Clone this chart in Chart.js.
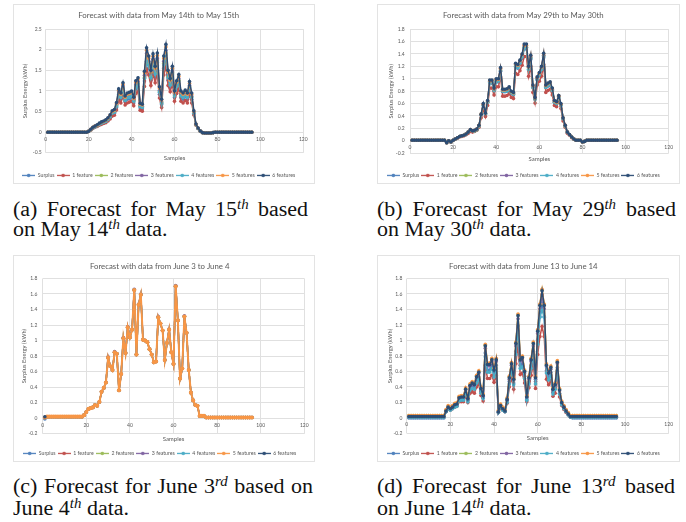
<!DOCTYPE html>
<html><head><meta charset="utf-8">
<script src="https://cdn.jsdelivr.net/npm/chart.js@4/dist/chart.umd.min.js"></script>
<style>
html,body{margin:0;padding:0;background:#fff;}
body{width:686px;height:522px;position:relative;overflow:hidden;font-family:"Liberation Serif","Times New Roman",serif;}
.box{position:absolute;border:1px solid #e3e3e3;box-sizing:border-box;}
canvas{position:absolute;}
.cap{position:absolute;font-size:20px;line-height:21px;color:#111;white-space:nowrap;transform:scaleX(1.1);transform-origin:0 0;}
.j{text-align:justify;text-align-last:justify;white-space:normal;}
.s{font-size:0.68em;font-style:italic;vertical-align:0.5em;line-height:0;}
</style></head><body>
<div class="box" style="left:13px;top:4px;width:302px;height:180px"></div>
<div class="box" style="left:377px;top:4px;width:303px;height:180px"></div>
<div class="box" style="left:13px;top:255px;width:302px;height:207px"></div>
<div class="box" style="left:377px;top:255px;width:303px;height:207px"></div>
<canvas id="ca" width="300" height="183" style="left:14px;top:5px"></canvas>
<canvas id="cb" width="301" height="183" style="left:378px;top:5px"></canvas>
<canvas id="cc" width="299" height="210" style="left:15px;top:256px"></canvas>
<canvas id="cd" width="301" height="210" style="left:378px;top:256px"></canvas>

<div class="cap j" style="left:13px;top:198.7px;width:268.2px">(a) Forecast for May 15<span class="s">th</span> based</div>
<div class="cap" style="left:13px;top:219.4px">on May 14<span class="s">th</span> data.</div>
<div class="cap j" style="left:377px;top:198.7px;width:271.8px">(b) Forecast for May 29<span class="s">th</span> based</div>
<div class="cap" style="left:377px;top:219.4px">on May 30<span class="s">th</span> data.</div>
<div class="cap j" style="left:13px;top:476px;width:272.7px">(c) Forecast for June 3<span class="s">rd</span> based on</div>
<div class="cap" style="left:13px;top:497.7px">June 4<span class="s">th</span> data.</div>
<div class="cap j" style="left:377px;top:476px;width:270.9px">(d) Forecast for June 13<span class="s">rd</span> based</div>
<div class="cap" style="left:377px;top:497.7px">on June 14<span class="s">th</span> data.</div>

<script>
const samples = [1,2,3,4,5,6,7,8,9,10,11,12,13,14,15,16,17,18,19,20,21,22,23,24,25,26,27,28,29,30,31,32,33,34,35,36,37,38,39,40,41,42,43,44,45,46,47,48,49,50,51,52,53,54,55,56,57,58,59,60,61,62,63,64,65,66,67,68,69,70,71,72,73,74,75,76,77,78,79,80,81,82,83,84,85,86,87,88,89,90,91,92,93,94,95,96];
const seriesNames = ['Surplus','1 feature','2 features','3 features','4 features','5 features','6 features'];
const xTicks = [0,20,40,60,80,100,120];
const yTicksA = [-0.5,0,0.5,1,1.5,2,2.5];
const yTicksB = [-0.2,0,0.2,0.4,0.6,0.8,1,1.2,1.4,1.6,1.8];
const titles = ['Forecast with data from May 14th to May 15th','Forecast with data from May 29th to May 30th','Forecast with data from June 3 to June 4','Forecast with data from June 13 to June 14'];

// ---------- (a) May 14 -> May 15 ----------
const a_surplus = [0,0,0,0,0,0,0,0,0,0,0,0,0,0,0,0,0,0,0,
0.02,0.06,0.10,0.13,0.15,0.19,0.21,0.23,0.25,0.29,
0.35,0.44,0.46,0.60,0.88,0.80,1.01,0.74,0.80,0.81,
0.84,0.71,1.05,1.11,0.59,0.57,1.24,1.72,1.55,1.26,
1.60,1.34,1.61,0.92,0.67,1.55,1.79,1.26,1.09,1.34,
0.84,1.05,1.18,0.84,0.80,0.86,0.80,1.03,0.80,0.45,
0.18,0.09,0.03,
-0.01,-0.02,-0.02,-0.02,-0.02,-0.01,
0,0,0,0,0,0,0,0,0,0,0,0,0,0,0,0,0,0];
const a_f1 = [0,0,0,0,0,0,0,0,0,0,0,0,0,0,0,0,0,0,0,
0.02,0.05,0.09,0.12,0.14,0.17,0.19,0.21,0.23,0.27,
0.32,0.39,0.41,0.54,0.79,0.71,0.90,0.66,0.71,0.73,
0.75,0.64,0.94,0.99,0.53,0.51,1.11,1.53,1.39,1.13,
1.43,1.20,1.44,0.83,0.60,1.39,1.60,1.13,0.98,1.20,
0.75,0.94,1.05,0.75,0.71,0.77,0.71,0.92,0.71,0.42,
0.17,0.09,0.03,
-0.01,-0.02,-0.02,-0.02,-0.02,-0.01,
0,0,0,0,0,0,0,0,0,0,0,0,0,0,0,0,0,0];
const a_f2 = [0,0,0,0,0,0,0,0,0,0,0,0,0,0,0,0,0,0,0,
0.02,0.06,0.11,0.14,0.16,0.20,0.23,0.24,0.27,0.32,
0.38,0.47,0.50,0.65,0.95,0.86,1.08,0.79,0.86,0.87,
0.90,0.77,1.13,1.19,0.63,0.61,1.33,1.85,1.67,1.35,
1.71,1.44,1.73,0.99,0.72,1.67,1.92,1.35,1.17,1.44,
0.90,1.13,1.26,0.90,0.86,0.92,0.86,1.11,0.86,0.47,
0.18,0.09,0.03,
-0.01,-0.02,-0.02,-0.02,-0.02,-0.01,
0,0,0,0,0,0,0,0,0,0,0,0,0,0,0,0,0,0];
const a_f3 = [0,0,0,0,0,0,0,0,0,0,0,0,0,0,0,0,0,0,0,
0.02,0.07,0.11,0.14,0.17,0.20,0.23,0.25,0.28,0.33,
0.39,0.48,0.51,0.67,0.98,0.88,1.12,0.82,0.88,0.90,
0.93,0.79,1.16,1.23,0.65,0.63,1.38,1.91,1.72,1.40,
1.77,1.49,1.79,1.02,0.74,1.72,1.98,1.40,1.21,1.49,
0.93,1.16,1.30,0.93,0.88,0.95,0.88,1.14,0.88,0.48,
0.19,0.09,0.03,
-0.01,-0.02,-0.02,-0.02,-0.02,-0.01,
0,0,0,0,0,0,0,0,0,0,0,0,0,0,0,0,0,0];
const a_f4 = [0,0,0,0,0,0,0,0,0,0,0,0,0,0,0,0,0,0,0,
0.02,0.06,0.11,0.13,0.16,0.19,0.22,0.24,0.26,0.31,
0.37,0.46,0.48,0.63,0.92,0.84,1.06,0.77,0.84,0.85,
0.88,0.75,1.10,1.16,0.62,0.60,1.30,1.80,1.63,1.32,
1.67,1.41,1.69,0.97,0.70,1.63,1.87,1.32,1.14,1.41,
0.88,1.10,1.23,0.88,0.84,0.90,0.84,1.08,0.84,0.46,
0.18,0.09,0.03,
-0.01,-0.02,-0.02,-0.02,-0.02,-0.01,
0,0,0,0,0,0,0,0,0,0,0,0,0,0,0,0,0,0];
const a_f5 = [0,0,0,0,0,0,0,0,0,0,0,0,0,0,0,0,0,0,0,
0.02,0.07,0.12,0.15,0.17,0.21,0.24,0.26,0.29,0.34,
0.41,0.50,0.53,0.70,1.02,0.92,1.16,0.85,0.92,0.94,
0.97,0.82,1.21,1.28,0.68,0.66,1.44,1.99,1.79,1.46,
1.84,1.55,1.86,1.07,0.78,1.79,2.07,1.46,1.26,1.55,
0.97,1.21,1.36,0.97,0.92,0.99,0.92,1.19,0.92,0.50,
0.19,0.10,0.03,
-0.01,-0.02,-0.02,-0.02,-0.02,-0.01,
0,0,0,0,0,0,0,0,0,0,0,0,0,0,0,0,0,0];
const a_f6 = [0,0,0,0,0,0,0,0,0,0,0,0,0,0,0,0,0,0,0,
0.02,0.07,0.12,0.15,0.18,0.22,0.25,0.27,0.30,0.35,
0.42,0.52,0.55,0.72,1.05,0.95,1.20,0.88,0.95,0.97,
1.00,0.85,1.25,1.32,0.70,0.68,1.48,2.05,1.85,1.50,
1.90,1.60,1.92,1.10,0.80,1.85,2.13,1.50,1.30,1.60,
1.00,1.25,1.40,1.00,0.95,1.02,0.95,1.23,0.95,0.52,
0.20,0.10,0.03,
-0.01,-0.02,-0.02,-0.02,-0.02,-0.01,
0,0,0,0,0,0,0,0,0,0,0,0,0,0,0,0,0,0];

// ---------- (b) May 29 -> May 30 ----------
const b_surplus = [0.01,0.01,0.01,0.01,0.01,0.01,0.01,0.01,0.01,0.01,0.01,0.01,0.01,0.01,0.01,0.01,
-0.03,0.00,-0.02,0.01,0.03,0.05,0.07,0.08,0.09,0.10,
0.13,0.17,0.15,0.16,0.18,0.24,0.41,0.57,0.43,0.62,
0.93,0.93,0.81,0.95,0.95,1.12,0.79,0.79,0.80,0.83,
0.76,0.74,1.19,1.17,1.24,1.33,1.48,1.48,1.14,1.31,
0.86,0.67,0.98,1.05,1.14,1.34,0.86,0.88,0.90,0.81,
0.62,0.60,0.69,0.57,0.35,0.24,0.13,0.10,0.06,0.03,
0.01,0.01,0.01,-0.02,-0.01,
0.01,0.01,0.01,0.01,0.01,0.01,0.01,0.01,0.01,0.01,0.01,0.01,0.01,0.01,0.01];
const b_f1 = [0.01,0.01,0.01,0.01,0.01,0.01,0.01,0.01,0.01,0.01,0.01,0.01,0.01,0.01,0.01,0.01,
-0.03,0.00,-0.02,0.01,0.03,0.04,0.06,0.07,0.08,0.10,
0.12,0.15,0.14,0.15,0.17,0.22,0.37,0.52,0.39,0.57,
0.85,0.85,0.74,0.87,0.87,1.03,0.72,0.72,0.73,0.76,
0.70,0.68,1.09,1.07,1.13,1.22,1.36,1.36,1.04,1.20,
0.78,0.61,0.90,0.96,1.04,1.23,0.78,0.81,0.83,0.74,
0.57,0.55,0.64,0.52,0.32,0.22,0.12,0.09,0.05,0.03,
0.01,0.01,0.01,-0.02,-0.01,
0.01,0.01,0.01,0.01,0.01,0.01,0.01,0.01,0.01,0.01,0.01,0.01,0.01,0.01,0.01];
const b_f2 = [0.01,0.01,0.01,0.01,0.01,0.01,0.01,0.01,0.01,0.01,0.01,0.01,0.01,0.01,0.01,0.01,
-0.03,0.00,-0.02,0.01,0.03,0.05,0.07,0.08,0.09,0.11,
0.14,0.17,0.16,0.16,0.18,0.24,0.42,0.58,0.44,0.63,
0.95,0.95,0.82,0.97,0.97,1.14,0.81,0.81,0.81,0.84,
0.78,0.76,1.21,1.19,1.26,1.36,1.51,1.51,1.16,1.34,
0.87,0.68,1.00,1.07,1.16,1.37,0.87,0.90,0.92,0.82,
0.63,0.61,0.71,0.58,0.36,0.24,0.14,0.10,0.06,0.03,
0.01,0.01,0.01,-0.02,-0.01,
0.01,0.01,0.01,0.01,0.01,0.01,0.01,0.01,0.01,0.01,0.01,0.01,0.01,0.01,0.01];
const b_f3 = [0.01,0.01,0.01,0.01,0.01,0.01,0.01,0.01,0.01,0.01,0.01,0.01,0.01,0.01,0.01,0.01,
-0.03,0.00,-0.02,0.01,0.03,0.05,0.07,0.08,0.09,0.11,
0.14,0.18,0.16,0.17,0.19,0.25,0.42,0.59,0.44,0.64,
0.96,0.96,0.83,0.98,0.98,1.16,0.81,0.81,0.82,0.85,
0.78,0.76,1.23,1.21,1.27,1.37,1.53,1.53,1.18,1.35,
0.88,0.69,1.01,1.08,1.18,1.38,0.88,0.91,0.93,0.83,
0.64,0.62,0.72,0.59,0.36,0.25,0.14,0.10,0.06,0.03,
0.01,0.01,0.01,-0.02,-0.01,
0.01,0.01,0.01,0.01,0.01,0.01,0.01,0.01,0.01,0.01,0.01,0.01,0.01,0.01,0.01];
const b_f4 = [0.01,0.01,0.01,0.01,0.01,0.01,0.01,0.01,0.01,0.01,0.01,0.01,0.01,0.01,0.01,0.01,
-0.03,0.00,-0.02,0.01,0.03,0.05,0.07,0.08,0.09,0.11,
0.14,0.17,0.16,0.16,0.18,0.24,0.42,0.57,0.44,0.62,
0.94,0.94,0.81,0.96,0.96,1.13,0.80,0.80,0.80,0.83,
0.77,0.75,1.20,1.18,1.25,1.35,1.50,1.50,1.15,1.33,
0.86,0.67,0.99,1.06,1.15,1.36,0.86,0.89,0.91,0.81,
0.62,0.60,0.70,0.57,0.36,0.24,0.14,0.10,0.06,0.03,
0.01,0.01,0.01,-0.02,-0.01,
0.01,0.01,0.01,0.01,0.01,0.01,0.01,0.01,0.01,0.01,0.01,0.01,0.01,0.01,0.01];
const b_f5 = [0.01,0.01,0.01,0.01,0.01,0.01,0.01,0.01,0.01,0.01,0.01,0.01,0.01,0.01,0.01,0.01,
-0.03,0.00,-0.02,0.01,0.03,0.05,0.07,0.08,0.09,0.11,
0.14,0.18,0.16,0.17,0.19,0.25,0.43,0.59,0.45,0.64,
0.97,0.97,0.84,0.99,0.99,1.17,0.82,0.82,0.83,0.86,
0.79,0.77,1.24,1.22,1.29,1.39,1.54,1.54,1.19,1.37,
0.89,0.69,1.02,1.09,1.19,1.40,0.89,0.92,0.94,0.84,
0.64,0.62,0.72,0.59,0.37,0.25,0.14,0.10,0.06,0.03,
0.01,0.01,0.01,-0.02,-0.01,
0.01,0.01,0.01,0.01,0.01,0.01,0.01,0.01,0.01,0.01,0.01,0.01,0.01,0.01,0.01];
const b_f6 = [0.01,0.01,0.01,0.01,0.01,0.01,0.01,0.01,0.01,0.01,0.01,0.01,0.01,0.01,0.01,0.01,
-0.03,0.00,-0.02,0.01,0.03,0.05,0.07,0.08,0.09,0.11,
0.14,0.18,0.16,0.17,0.19,0.25,0.43,0.60,0.45,0.65,
0.98,0.98,0.85,1.00,1.00,1.18,0.83,0.83,0.84,0.87,
0.80,0.78,1.25,1.23,1.30,1.40,1.56,1.56,1.20,1.38,
0.90,0.70,1.03,1.10,1.20,1.41,0.90,0.93,0.95,0.85,
0.65,0.63,0.73,0.60,0.37,0.25,0.14,0.10,0.06,0.03,
0.01,0.01,0.01,-0.02,-0.01,
0.01,0.01,0.01,0.01,0.01,0.01,0.01,0.01,0.01,0.01,0.01,0.01,0.01,0.01,0.01];

// ---------- (c) June 3 -> June 4 ----------
const c_surplus = [-0.01,
0.02,0.02,0.02,0.02,0.02,0.02,0.02,0.02,0.02,0.02,0.02,0.02,0.02,0.02,0.02,0.02,
0.02,0.04,0.08,0.12,0.13,0.14,0.17,0.16,0.21,0.34,
0.39,0.46,0.78,0.67,0.62,0.85,0.83,0.36,0.57,1.03,
0.84,1.17,1.04,1.14,1.65,0.82,1.46,1.59,1.01,1.00,
0.98,0.89,0.82,0.72,0.73,1.30,1.22,1.13,0.75,0.97,
1.14,0.85,0.70,1.70,1.26,0.51,0.64,1.31,1.10,0.62,
0.33,0.23,0.17,0.16,0.03,0.03,0.03,0.01,
0.01,0.01,0.01,0.01,0.01,0.01,0.01,0.01,0.01,0.01,0.01,0.01,0.01,0.01,0.01,0.01,0.01,0.01,0.01,0.01,0.01];
const c_f1 = [0.01,
0.02,0.02,0.02,0.02,0.02,0.02,0.02,0.02,0.02,0.02,0.02,0.02,0.02,0.02,0.02,0.02,
0.02,0.04,0.08,0.12,0.13,0.14,0.17,0.16,0.21,0.34,
0.39,0.46,0.78,0.67,0.62,0.85,0.83,0.36,0.57,1.03,
0.84,1.17,1.04,1.14,1.65,0.82,1.46,1.59,1.01,1.00,
0.98,0.89,0.82,0.72,0.73,1.30,1.22,1.13,0.75,0.97,
1.14,0.85,0.70,1.70,1.26,0.51,0.64,1.31,1.10,0.62,
0.33,0.23,0.17,0.16,0.03,0.03,0.03,0.01,
0.01,0.01,0.01,0.01,0.01,0.01,0.01,0.01,0.01,0.01,0.01,0.01,0.01,0.01,0.01,0.01,0.01,0.01,0.01,0.01,0.01];
const c_f2 = [0.01,
0.02,0.02,0.02,0.02,0.02,0.02,0.02,0.02,0.02,0.02,0.02,0.02,0.02,0.02,0.02,0.02,
0.02,0.04,0.08,0.12,0.13,0.14,0.17,0.16,0.21,0.34,
0.39,0.46,0.78,0.67,0.62,0.85,0.83,0.36,0.57,1.03,
0.84,1.17,1.04,1.14,1.65,0.82,1.46,1.59,1.01,1.00,
0.98,0.89,0.82,0.72,0.73,1.30,1.22,1.13,0.75,0.97,
1.14,0.85,0.70,1.70,1.26,0.51,0.64,1.31,1.10,0.62,
0.33,0.23,0.17,0.16,0.03,0.03,0.03,0.01,
0.01,0.01,0.01,0.01,0.01,0.01,0.01,0.01,0.01,0.01,0.01,0.01,0.01,0.01,0.01,0.01,0.01,0.01,0.01,0.01,0.01];
const c_f3 = [0.01,
0.02,0.02,0.02,0.02,0.02,0.02,0.02,0.02,0.02,0.02,0.02,0.02,0.02,0.02,0.02,0.02,
0.02,0.04,0.08,0.12,0.13,0.14,0.17,0.16,0.21,0.34,
0.39,0.46,0.79,0.67,0.62,0.86,0.83,0.36,0.57,1.04,
0.84,1.18,1.04,1.14,1.66,0.82,1.47,1.60,1.01,1.00,
0.98,0.89,0.82,0.72,0.73,1.31,1.22,1.13,0.75,0.97,
1.15,0.85,0.70,1.71,1.26,0.51,0.64,1.32,1.10,0.62,
0.33,0.23,0.17,0.16,0.03,0.03,0.03,0.01,
0.01,0.01,0.01,0.01,0.01,0.01,0.01,0.01,0.01,0.01,0.01,0.01,0.01,0.01,0.01,0.01,0.01,0.01,0.01,0.01,0.01];
const c_f4 = [0.01,
0.02,0.02,0.02,0.02,0.02,0.02,0.02,0.02,0.02,0.02,0.02,0.02,0.02,0.02,0.02,0.02,
0.02,0.04,0.08,0.12,0.13,0.14,0.17,0.16,0.21,0.34,
0.39,0.46,0.78,0.67,0.62,0.85,0.83,0.36,0.57,1.03,
0.84,1.17,1.04,1.14,1.65,0.82,1.46,1.59,1.01,1.00,
0.98,0.89,0.82,0.72,0.73,1.30,1.22,1.13,0.75,0.97,
1.14,0.85,0.70,1.70,1.26,0.51,0.64,1.31,1.10,0.62,
0.33,0.23,0.17,0.16,0.03,0.03,0.03,0.01,
0.01,0.01,0.01,0.01,0.01,0.01,0.01,0.01,0.01,0.01,0.01,0.01,0.01,0.01,0.01,0.01,0.01,0.01,0.01,0.01,0.01];
const c_f5 = [0.01,
0.02,0.02,0.02,0.02,0.02,0.02,0.02,0.02,0.02,0.02,0.02,0.02,0.02,0.02,0.02,0.02,
0.02,0.04,0.08,0.12,0.13,0.14,0.17,0.16,0.21,0.34,
0.39,0.46,0.78,0.67,0.62,0.85,0.83,0.36,0.57,1.03,
0.84,1.17,1.04,1.14,1.65,0.82,1.46,1.59,1.01,1.00,
0.98,0.89,0.82,0.72,0.73,1.30,1.22,1.13,0.75,0.97,
1.14,0.85,0.70,1.70,1.26,0.51,0.64,1.31,1.10,0.62,
0.33,0.23,0.17,0.16,0.03,0.03,0.03,0.01,
0.01,0.01,0.01,0.01,0.01,0.01,0.01,0.01,0.01,0.01,0.01,0.01,0.01,0.01,0.01,0.01,0.01,0.01,0.01,0.01,0.01];
const c_f6 = [0.02];

// ---------- (d) June 13 -> June 14 ----------
const d_surplus = [0,0,0,0,0,0,0,0,0,0,0,0,0,0,0,0,0,
0.08,0.13,0.11,0.13,0.15,0.16,0.23,0.24,0.24,0.33,
0.23,0.38,0.41,0.39,0.48,0.53,0.34,0.26,0.84,0.62,
0.62,0.68,0.56,0.68,0.07,0.14,0.11,0.08,0.22,0.47,
0.63,0.45,0.86,1.19,0.68,0.70,0.54,0.24,0.47,0.68,
0.86,0.47,1.01,1.31,1.48,1.31,0.61,0.52,0.59,0.33,
0.39,0.65,0.32,0.18,0.13,0.08,0.05,0.01,
0,0,0,0,0,0,0,0,0,0,0,0,0,0,0,0,0,0,0,0,0];
const d_f1 = [0.01,0.01,0.01,0.01,0.01,0.01,0.01,0.01,0.01,0.01,0.01,0.01,0.01,0.01,0.01,0.01,0.01,
0.08,0.12,0.10,0.12,0.14,0.15,0.21,0.21,0.21,0.28,
0.20,0.32,0.34,0.32,0.40,0.44,0.29,0.22,0.68,0.51,
0.51,0.55,0.46,0.55,0.07,0.13,0.10,0.08,0.19,0.40,
0.52,0.37,0.70,0.95,0.56,0.58,0.45,0.21,0.39,0.55,
0.70,0.38,0.82,1.05,1.18,1.05,0.50,0.43,0.48,0.28,
0.32,0.53,0.27,0.16,0.11,0.07,0.04,0.01,
0.01,0.01,0.01,0.01,0.01,0.01,0.01,0.01,0.01,0.01,0.01,0.01,0.01,0.01,0.01,0.01,0.01,0.01,0.01,0.01,0.01];
const d_f2 = [0.03,0.03,0.03,0.03,0.03,0.03,0.03,0.03,0.03,0.03,0.03,0.03,0.03,0.03,0.03,0.03,0.03,
0.10,0.15,0.13,0.15,0.18,0.19,0.27,0.28,0.28,0.38,
0.26,0.43,0.46,0.44,0.54,0.60,0.39,0.30,0.94,0.70,
0.70,0.76,0.63,0.76,0.09,0.17,0.13,0.10,0.25,0.53,
0.71,0.51,0.97,1.33,0.76,0.79,0.61,0.28,0.53,0.76,
0.97,0.53,1.13,1.46,1.65,1.46,0.69,0.59,0.66,0.38,
0.44,0.73,0.37,0.21,0.15,0.10,0.06,0.03,
0.03,0.03,0.03,0.03,0.03,0.03,0.03,0.03,0.03,0.03,0.03,0.03,0.03,0.03,0.03,0.03,0.03,0.03,0.03,0.03,0.03];
const d_f3 = [0.02,0.02,0.02,0.02,0.02,0.02,0.02,0.02,0.02,0.02,0.02,0.02,0.02,0.02,0.02,0.02,0.02,
0.09,0.14,0.12,0.14,0.16,0.17,0.25,0.26,0.26,0.36,
0.24,0.41,0.44,0.42,0.51,0.57,0.37,0.28,0.90,0.67,
0.67,0.73,0.60,0.73,0.08,0.16,0.12,0.09,0.23,0.50,
0.68,0.49,0.93,1.28,0.73,0.76,0.58,0.26,0.50,0.73,
0.93,0.50,1.09,1.41,1.59,1.41,0.66,0.56,0.63,0.36,
0.42,0.70,0.35,0.19,0.14,0.09,0.05,0.02,
0.02,0.02,0.02,0.02,0.02,0.02,0.02,0.02,0.02,0.02,0.02,0.02,0.02,0.02,0.02,0.02,0.02,0.02,0.02,0.02,0.02];
const d_f4 = [0.01,0.01,0.01,0.01,0.01,0.01,0.01,0.01,0.01,0.01,0.01,0.01,0.01,0.01,0.01,0.01,0.01,
0.08,0.12,0.10,0.12,0.14,0.15,0.22,0.23,0.23,0.31,
0.21,0.36,0.38,0.37,0.45,0.50,0.32,0.25,0.79,0.59,
0.59,0.64,0.53,0.64,0.07,0.14,0.10,0.08,0.20,0.44,
0.60,0.43,0.82,1.12,0.64,0.66,0.51,0.23,0.44,0.64,
0.82,0.44,0.95,1.30,1.39,1.30,0.58,0.49,0.55,0.31,
0.37,0.61,0.31,0.17,0.12,0.08,0.04,0.01,
0.01,0.01,0.01,0.01,0.01,0.01,0.01,0.01,0.01,0.01,0.01,0.01,0.01,0.01,0.01,0.01,0.01,0.01,0.01,0.01,0.01];
const d_f5 = [0.03,0.03,0.03,0.03,0.03,0.03,0.03,0.03,0.03,0.03,0.03,0.03,0.03,0.03,0.03,0.03,0.03,
0.11,0.16,0.14,0.16,0.19,0.20,0.28,0.29,0.29,0.39,
0.27,0.44,0.47,0.45,0.55,0.61,0.40,0.31,0.95,0.71,
0.71,0.77,0.64,0.77,0.10,0.18,0.14,0.11,0.26,0.54,
0.72,0.52,0.98,1.34,0.77,0.80,0.62,0.29,0.54,0.77,
0.98,0.54,1.14,1.47,1.66,1.47,0.70,0.60,0.67,0.39,
0.45,0.74,0.38,0.22,0.16,0.11,0.07,0.03,
0.03,0.03,0.03,0.03,0.03,0.03,0.03,0.03,0.03,0.03,0.03,0.03,0.03,0.03,0.03,0.03,0.03,0.03,0.03,0.03,0.03];
const d_f6 = [0.02,0.02,0.02,0.02,0.02,0.02,0.02,0.02,0.02,0.02,0.02,0.02,0.02,0.02,0.02,0.02,0.02,
0.09,0.14,0.12,0.14,0.17,0.18,0.26,0.27,0.27,0.37,
0.25,0.42,0.45,0.43,0.53,0.59,0.38,0.29,0.93,0.69,
0.69,0.75,0.62,0.75,0.08,0.16,0.12,0.09,0.24,0.52,
0.70,0.50,0.96,1.32,0.75,0.78,0.60,0.27,0.52,0.75,
0.96,0.52,1.12,1.45,1.64,1.45,0.68,0.58,0.65,0.37,
0.43,0.72,0.36,0.20,0.14,0.09,0.05,0.02,
0.02,0.02,0.02,0.02,0.02,0.02,0.02,0.02,0.02,0.02,0.02,0.02,0.02,0.02,0.02,0.02,0.02,0.02,0.02,0.02,0.02];

const COLORS = ['#4F81BD','#C0504D','#9BBB59','#8064A2','#4BACC6','#F79646','#2C4D75'];
const TXT = '#595959';
const FONT = 'Lato, "Open Sans", sans-serif';

function legendIcon(color) {
  const c = document.createElement('canvas');
  c.width = 13; c.height = 5;
  const g = c.getContext('2d');
  g.strokeStyle = color; g.lineWidth = 1.3;
  g.beginPath(); g.moveTo(0, 2.5); g.lineTo(13, 2.5); g.stroke();
  g.fillStyle = color;
  g.beginPath(); g.arc(6.5, 2.5, 1.8, 0, Math.PI * 2); g.fill();
  return c;
}
const ICONS = COLORS.map(legendIcon);

function pts(arr) { return arr.map((v, k) => ({x: samples[k], y: v})); }

function build(id, title, series, yTicks, L) {
  const lw = L.lw || [];
  const datasets = series.map((arr, i) => ({
    label: seriesNames[i], data: pts(arr), xAxisID: 'x', yAxisID: 'y',
    borderColor: COLORS[i], backgroundColor: COLORS[i],
    pointBackgroundColor: COLORS[i], pointBorderColor: COLORS[i],
    borderWidth: lw[i] || 1.5, pointRadius: lw[i] ? 2.1 : 1.8, pointBorderWidth: 0,
    pointHoverRadius: 1.8, order: 6 - i, tension: 0, fill: false
  }));
  new Chart(document.getElementById(id), {
    type: 'line',
    data: {datasets},
    options: {
      responsive: false, animation: false, devicePixelRatio: 1, events: [],
      layout: {padding: {left: 0, right: L.padR, top: 0, bottom: 0}},
      plugins: {
        tooltip: {enabled: false},
        title: {display: true, text: title, color: TXT,
          font: {family: FONT, size: 7.8, weight: 'normal'},
          padding: {top: L.tPt, bottom: L.tPb}},
        legend: {position: 'bottom',
          labels: {usePointStyle: true, pointStyleWidth: 13, boxHeight: 5.2, padding: 2,
            color: TXT, font: {family: FONT, size: 5.2},
            sort: (a, b) => a.datasetIndex - b.datasetIndex,
            generateLabels: (chart) => {
              const items = Chart.defaults.plugins.legend.labels.generateLabels(chart);
              items.forEach(it => { it.pointStyle = ICONS[it.datasetIndex]; });
              return items;
            }}}
      },
      scales: {
        x: {type: 'linear', position: {y: 0}, min: 0, max: 120,
          afterBuildTicks: s => { s.ticks = xTicks.map(v => ({value: v})); },
          afterFit: s => { s.paddingLeft = 0; s.paddingRight = 0; },
          grid: {color: '#e0e0e0', lineWidth: 1, drawTicks: false},
          border: {display: false},
          ticks: {color: TXT, font: {family: FONT, size: 5}, padding: L.xPad, maxRotation: 0}},
        x2: {type: 'linear', position: 'bottom', min: 0, max: 120,
          grid: {display: false}, border: {display: false}, ticks: {display: false},
          title: {display: true, text: 'Samples', color: TXT, font: {family: FONT, size: 6},
            padding: {top: 0, bottom: L.sPb}},
          afterFit: s => { s.height = L.h2; s.paddingLeft = 0; s.paddingRight = 0; }},
        y: {type: 'linear', position: 'left', min: yTicks[0], max: yTicks[yTicks.length - 1],
          afterBuildTicks: s => { s.ticks = yTicks.map(v => ({value: v})); },
          afterFit: s => { s.width = L.yW; s.paddingTop = 0; s.paddingBottom = 0; },
          grid: {color: '#e0e0e0', lineWidth: 1, drawTicks: false},
          border: {display: false},
          ticks: {color: TXT, font: {family: FONT, size: 5}, padding: L.yPad,
            callback: v => String(+Number(v).toFixed(2))},
          title: {display: true, text: 'Surplus Energy (kWh)', color: TXT,
            font: {family: FONT, size: 5.8}, padding: {top: L.yTp, bottom: 0}}}
      }
    }
  });
}

build('ca', titles[0], [a_surplus, a_f1, a_f2, a_f3, a_f4, a_f5, a_f6], yTicksA,
  {padR: 10.7, tPt: 6.2, tPb: 8.6, h2: 18, sPb: 8.7, yW: 31.7, yTp: 7.5, yPad: 4, xPad: 4.6});
build('cb', titles[1], [b_surplus, b_f1, b_f2, b_f3, b_f4, b_f5, b_f6], yTicksB,
  {padR: 10.3, tPt: 6.2, tPb: 8.6, h2: 17.6, sPb: 8.3, yW: 32, yTp: 9.2, yPad: 5.3, xPad: 4});
build('cc', titles[2], [c_surplus, c_f1, c_f2, c_f3, c_f4, c_f5, c_f6], yTicksB,
  {padR: 9.7, tPt: 6.2, tPb: 6.9, h2: 15, sPb: 6.4, yW: 27.7, yTp: 5.5, yPad: 5.4, xPad: 3.7,
   lw: [0, 0, 0, 0, 0, 2.0, 0]});
build('cd', titles[3], [d_surplus, d_f1, d_f2, d_f3, d_f4, d_f5, d_f6], yTicksB,
  {padR: 10.3, tPt: 6.2, tPb: 6.9, h2: 15.3, sPb: 6.7, yW: 28.7, yTp: 8.2, yPad: 4.4, xPad: 3.7});
</script>
</body></html>
